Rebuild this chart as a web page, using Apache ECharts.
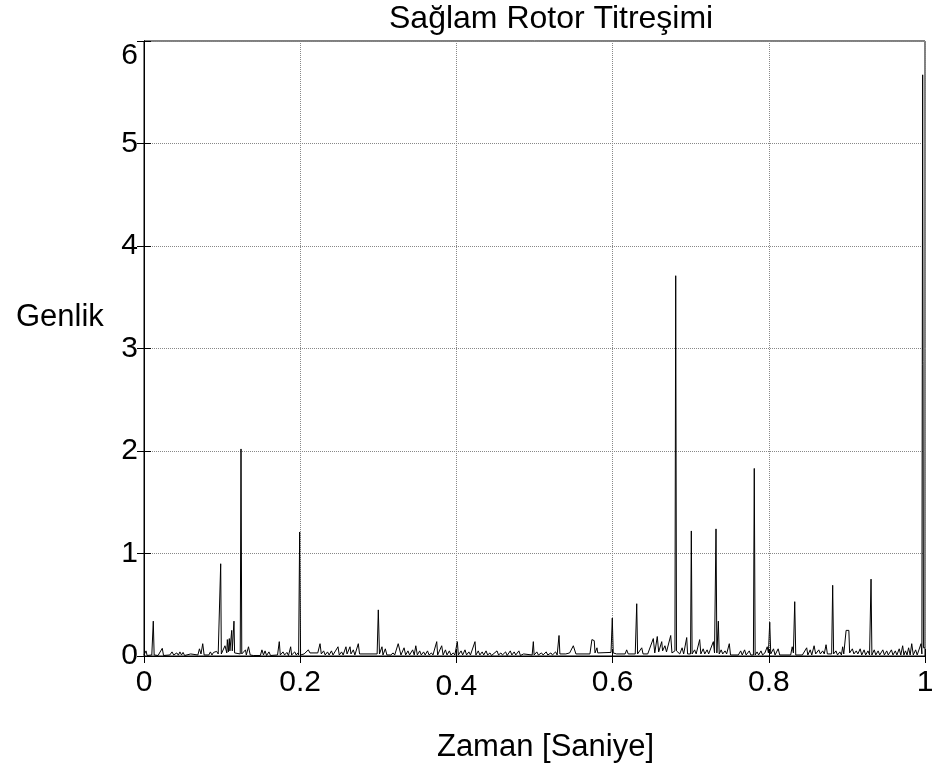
<!DOCTYPE html>
<html>
<head>
<meta charset="utf-8">
<title>Sağlam Rotor Titreşimi</title>
<script src="https://cdn.jsdelivr.net/npm/echarts@6/dist/echarts.min.js"></script>
<style>
  html, body { margin: 0; padding: 0; background: #fff; }
  #chart { width: 944px; height: 776px; }
</style>
</head>
<body>
<div id="chart"></div>
<script>
// signal samples: [time (s), amplitude]
const seg0to02 = [
  [0.000, 0.01], [0.0026, 0.05], [0.004, 0.005], [0.010, 0.01], [0.0119, 0.34], [0.013, 0.01],
  [0.018, 0.005], [0.0234, 0.075], [0.025, 0.005], [0.033, 0.01], [0.0359, 0.04], [0.038, 0.01],
  [0.042, 0.03], [0.044, 0.008], [0.046, 0.04], [0.048, 0.01], [0.050, 0.035], [0.052, 0.005],
  [0.0598, 0.02], [0.062, 0.005], [0.069, 0.01], [0.071, 0.07], [0.073, 0.02], [0.0752, 0.12],
  [0.077, 0.01], [0.083, 0.01], [0.085, 0.04], [0.087, 0.01], [0.089, 0.035], [0.091, 0.02],
  [0.093, 0.045], [0.095, 0.02], [0.097, 0.02], [0.0982, 0.90], [0.099, 0.02], [0.101, 0.03],
  [0.1037, 0.10], [0.106, 0.03], [0.1067, 0.16], [0.108, 0.04], [0.1092, 0.17], [0.110, 0.05],
  [0.1123, 0.25], [0.113, 0.05], [0.1152, 0.34], [0.116, 0.03], [0.117, 0.02], [0.1232, 0.02],
  [0.1242, 2.02], [0.1252, 0.02], [0.127, 0.01], [0.130, 0.06], [0.131, 0.01], [0.1338, 0.09],
  [0.136, 0.01], [0.140, 0.005], [0.149, 0.005], [0.151, 0.06], [0.153, 0.01], [0.155, 0.05],
  [0.157, 0.005], [0.160, 0.04], [0.162, 0.005], [0.171, 0.01], [0.1732, 0.14], [0.1745, 0.01],
  [0.178, 0.04], [0.180, 0.01], [0.183, 0.035], [0.185, 0.005], [0.1878, 0.09], [0.189, 0.01],
  [0.193, 0.04], [0.195, 0.01], [0.197, 0.03], [0.198, 0.01], [0.1993, 1.21], [0.2005, 0.01]
];
const seg02to04 = [
  [0.205, 0.02], [0.2104, 0.06], [0.2125, 0.03], [0.2225, 0.03], [0.2254, 0.12], [0.227, 0.02],
  [0.230, 0.05], [0.232, 0.01], [0.235, 0.04], [0.237, 0.01], [0.240, 0.05], [0.242, 0.01],
  [0.2484, 0.09], [0.250, 0.01], [0.253, 0.04], [0.255, 0.01], [0.2586, 0.09], [0.260, 0.02],
  [0.2638, 0.09], [0.265, 0.02], [0.268, 0.06], [0.270, 0.01], [0.2744, 0.12], [0.276, 0.02],
  [0.2985, 0.02], [0.300, 0.45], [0.3015, 0.02], [0.3047, 0.09], [0.306, 0.01], [0.309, 0.07],
  [0.311, 0.01], [0.316, 0.01], [0.319, 0.03], [0.321, 0.01], [0.3255, 0.12], [0.329, 0.01],
  [0.333, 0.08], [0.335, 0.01], [0.338, 0.05], [0.340, 0.01], [0.344, 0.06], [0.346, 0.01],
  [0.348, 0.10], [0.350, 0.01], [0.353, 0.05], [0.355, 0.01], [0.358, 0.04], [0.360, 0.01],
  [0.363, 0.05], [0.365, 0.01], [0.368, 0.03], [0.370, 0.01], [0.3748, 0.14], [0.376, 0.01],
  [0.3812, 0.10], [0.383, 0.01], [0.386, 0.06], [0.388, 0.01], [0.391, 0.05], [0.393, 0.01],
  [0.396, 0.03], [0.398, 0.01], [0.4012, 0.14], [0.4025, 0.01]
];
const seg04to06 = [
  [0.406, 0.05], [0.408, 0.01], [0.411, 0.06], [0.413, 0.01], [0.416, 0.04], [0.418, 0.01],
  [0.4238, 0.14], [0.425, 0.01], [0.428, 0.05], [0.430, 0.01], [0.433, 0.04], [0.435, 0.01],
  [0.438, 0.05], [0.440, 0.01], [0.443, 0.03], [0.445, 0.005], [0.452, 0.05], [0.454, 0.01],
  [0.457, 0.03], [0.459, 0.01], [0.463, 0.04], [0.465, 0.005], [0.469, 0.05], [0.471, 0.01],
  [0.474, 0.04], [0.476, 0.01], [0.480, 0.05], [0.482, 0.005], [0.486, 0.02], [0.497, 0.01],
  [0.4985, 0.14], [0.4995, 0.01], [0.503, 0.04], [0.505, 0.01], [0.509, 0.03], [0.511, 0.01],
  [0.515, 0.04], [0.517, 0.01], [0.521, 0.03], [0.523, 0.01], [0.527, 0.04], [0.529, 0.01],
  [0.5314, 0.20], [0.5325, 0.02], [0.535, 0.03], [0.540, 0.02], [0.545, 0.03], [0.5497, 0.10],
  [0.553, 0.02], [0.571, 0.02], [0.5735, 0.16], [0.5765, 0.15], [0.5775, 0.03], [0.580, 0.08],
  [0.581, 0.03], [0.598, 0.035], [0.5996, 0.37], [0.6008, 0.03]
];
const seg06to08 = [
  [0.605, 0.02], [0.616, 0.02], [0.618, 0.06], [0.620, 0.02], [0.629, 0.02], [0.6309, 0.51],
  [0.632, 0.02], [0.6373, 0.08], [0.639, 0.02], [0.645, 0.02], [0.6521, 0.17], [0.654, 0.03],
  [0.6572, 0.19], [0.659, 0.04], [0.6629, 0.14], [0.664, 0.05], [0.667, 0.10], [0.669, 0.04],
  [0.6744, 0.20], [0.676, 0.03], [0.6798, 0.05], [0.6808, 3.71], [0.6818, 0.05], [0.684, 0.05],
  [0.686, 0.02], [0.689, 0.08], [0.691, 0.02], [0.6949, 0.18], [0.696, 0.02], [0.6998, 0.02],
  [0.7008, 1.22], [0.7018, 0.02], [0.705, 0.06], [0.707, 0.02], [0.7115, 0.16], [0.713, 0.02],
  [0.716, 0.07], [0.718, 0.02], [0.721, 0.06], [0.723, 0.02], [0.729, 0.14], [0.7305, 0.03],
  [0.7324, 1.24], [0.7335, 0.03], [0.7354, 0.34], [0.7365, 0.02], [0.739, 0.06], [0.741, 0.02],
  [0.744, 0.05], [0.746, 0.02], [0.7494, 0.12], [0.751, 0.01], [0.761, 0.01], [0.764, 0.05],
  [0.766, 0.01], [0.769, 0.06], [0.771, 0.01], [0.775, 0.05], [0.777, 0.01], [0.7803, 0.01],
  [0.7814, 1.83], [0.7825, 0.01], [0.785, 0.04], [0.787, 0.01], [0.790, 0.05], [0.792, 0.01],
  [0.795, 0.03], [0.797, 0.02], [0.798, 0.09], [0.7995, 0.03], [0.8012, 0.33], [0.8025, 0.02]
];
const seg08to1 = [
  [0.806, 0.07], [0.808, 0.01], [0.812, 0.07], [0.814, 0.01], [0.828, 0.01], [0.830, 0.09],
  [0.8315, 0.03], [0.8332, 0.53], [0.8345, 0.01], [0.843, 0.01], [0.8485, 0.08], [0.850, 0.01],
  [0.853, 0.06], [0.855, 0.01], [0.858, 0.10], [0.860, 0.02], [0.864, 0.06], [0.866, 0.02],
  [0.869, 0.05], [0.871, 0.02], [0.8733, 0.11], [0.875, 0.02], [0.8805, 0.02], [0.8818, 0.69],
  [0.883, 0.02], [0.886, 0.05], [0.888, 0.01], [0.891, 0.04], [0.893, 0.01], [0.8946, 0.09],
  [0.896, 0.02], [0.898, 0.03], [0.899, 0.25], [0.9025, 0.25], [0.9035, 0.03], [0.907, 0.07],
  [0.909, 0.02], [0.912, 0.05], [0.914, 0.02], [0.917, 0.07], [0.919, 0.01], [0.922, 0.06],
  [0.924, 0.01], [0.927, 0.05], [0.929, 0.01], [0.9309, 0.75], [0.932, 0.01], [0.935, 0.06],
  [0.937, 0.01], [0.940, 0.05], [0.942, 0.01], [0.946, 0.06], [0.948, 0.01], [0.951, 0.05],
  [0.953, 0.01], [0.957, 0.06], [0.959, 0.01], [0.962, 0.05], [0.964, 0.01], [0.967, 0.07],
  [0.969, 0.01], [0.9714, 0.10], [0.973, 0.01], [0.975, 0.05], [0.977, 0.01], [0.979, 0.08],
  [0.981, 0.01], [0.983, 0.12], [0.985, 0.01], [0.988, 0.06], [0.990, 0.01], [0.9949, 0.12],
  [0.996, 0.02], [0.997, 5.67], [0.998, 0.08], [1.000, 0.08]
];

const signal = [].concat(seg0to02, seg02to04, seg04to06, seg06to08, seg08to1);

const font = 'Liberation Sans, Arial, sans-serif';

function tickLabel(v) {
  const s = String(+v.toFixed(1));
  return s === '0.4' ? '{lo|' + s + '}' : s;
}

const myChart = echarts.init(document.getElementById('chart'));

const option = {
  animation: false,
  backgroundColor: '#fff',
  title: [
    {
      text: 'Sağlam Rotor Titreşimi',
      left: 389,
      top: 3,
      padding: 0,
      textStyle: { fontFamily: font, fontSize: 32, fontWeight: 'normal', color: '#000' },
    },
    {
      // y axis label, MATLAB puts it horizontal and a bit above the middle
      text: 'Genlik',
      left: 16,
      top: 302,
      padding: 0,
      textStyle: { fontFamily: font, fontSize: 31, fontWeight: 'normal', color: '#000' },
    },
  ],
  grid: {
    left: 144,
    right: 19,
    top: 41,
    bottom: 120,
    show: true,
    borderColor: '#000',
    borderWidth: 1,
  },
  xAxis: [
    {
      type: 'value',
      min: 0,
      max: 1,
      interval: 0.2,
      name: 'Zaman [Saniye]',
      nameLocation: 'middle',
      nameGap: 76,
      nameTextStyle: { fontFamily: font, fontSize: 31, color: '#000', padding: [0, 0, 0, 22] },
      axisLine: { lineStyle: { color: '#000', width: 1 } },
      axisTick: { inside: true, length: 7, lineStyle: { color: '#000' } },
      axisLabel: {
        margin: 12,
        fontFamily: font,
        fontSize: 30,
        color: '#000',
        formatter: tickLabel,
        rich: { lo: { fontFamily: font, fontSize: 30, color: '#000', padding: [4, 0, 0, 0] } },
      },
      splitLine: { show: true, lineStyle: { color: '#888', type: 'dotted', width: 1 } },
    },
    {
      type: 'value',
      position: 'top',
      min: 0,
      max: 1,
      interval: 0.2,
      axisLine: { lineStyle: { color: '#000' } },
      axisTick: { inside: true, length: 7, lineStyle: { color: '#000' } },
      axisLabel: { show: false },
      splitLine: { show: false },
    },
  ],
  yAxis: [
    {
      type: 'value',
      min: 0,
      max: 6,
      interval: 1,
      axisLine: { show: true, lineStyle: { color: '#000', width: 1 } },
      axisTick: { show: true, inside: true, length: 7, lineStyle: { color: '#000' } },
      axisLabel: {
        margin: 6,
        fontFamily: font,
        fontSize: 30,
        color: '#000',
        verticalAlignMaxLabel: 'top',
      },
      splitLine: { show: true, lineStyle: { color: '#888', type: 'dotted', width: 1 } },
    },
    {
      type: 'value',
      position: 'right',
      min: 0,
      max: 6,
      interval: 1,
      axisLine: { show: true, lineStyle: { color: '#000' } },
      axisTick: { show: true, inside: true, length: 7, lineStyle: { color: '#000' } },
      axisLabel: { show: false },
      splitLine: { show: false },
    },
  ],
  series: [
    {
      name: 'Genlik',
      type: 'line',
      data: signal,
      showSymbol: false,
      symbol: 'none',
      lineStyle: { color: '#000', width: 1 },
      z: 3,
    },
  ],
};

myChart.setOption(option);
</script>
</body>
</html>
